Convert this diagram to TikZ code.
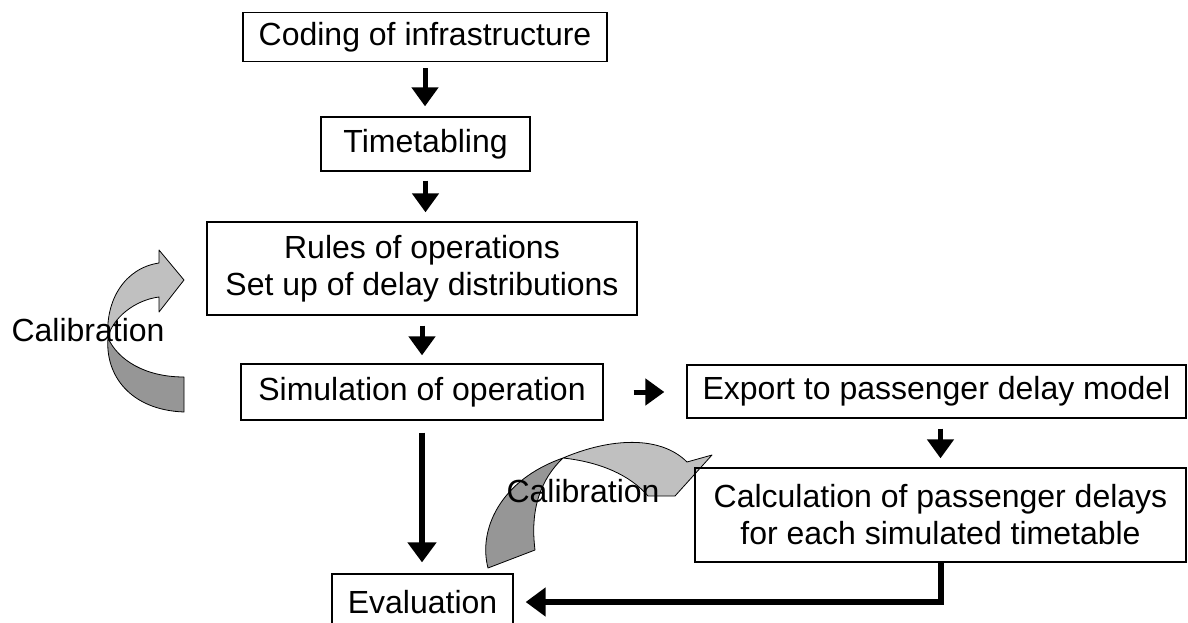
\documentclass[tikz,border=0pt]{standalone}
\usepackage{fontspec}
\setmainfont{Liberation Sans}
\usetikzlibrary{arrows.meta}
\definecolor{bandlight}{RGB}{192,192,192}
\definecolor{banddark}{RGB}{150,150,150}

\begin{document}
\begin{tikzpicture}[x=1pt,y=-1pt]
\tikzstyle{box}=[draw,line width=1.3pt,inner sep=0pt,align=center,font=\fontsize{32}{37}\selectfont]
\tikzstyle{flow}=[-{Triangle[width=26pt,length=19pt]},line width=5pt]
\tikzstyle{lflow}=[-{Triangle[width=28pt,length=20pt]},line width=6pt]
\tikzstyle{lite}=[fill=bandlight,draw=black,line width=0.8pt,line join=round]
\tikzstyle{shade}=[fill=banddark,draw=black,line width=0.8pt,line join=round]
\tikzstyle{lbl}=[font=\fontsize{32}{37}\selectfont,inner sep=0pt]
\useasboundingbox (0,0) rectangle (1188,623);
\clip (0,0) rectangle (1188,623);

\path[shade] (184,412) .. controls (130,410) and (105,375) .. (108,338)
  .. controls (118,360) and (145,377) .. (184,377) -- cycle;
\path[lite] (108,338) .. controls (105,300) and (125,268) .. (159,263) -- (159,250) -- (184,280)
  -- (159,312) -- (159,297) .. controls (135,300) and (112,318) .. (108,338) -- cycle;

\path[shade] (488,568) .. controls (478,530) and (500,480) .. (563,458)
  .. controls (540,480) and (530,510) .. (535,550) -- cycle;
\path[lite] (563,458) .. controls (610,438) and (660,435) .. (687,462) -- (712,455) -- (675,496)
  -- (648,496) .. controls (630,475) and (600,462) .. (563,458) -- cycle;

\path (425,37) node[box,minimum width=364pt,minimum height=49pt](code){Coding of infrastructure}
      (425.5,144) node[box,minimum width=209pt,minimum height=54pt](tt){Timetabling}
      (422,268.5) node[box,minimum width=430pt,minimum height=93pt](rules){Rules of operations\\Set up of delay distributions}
      (422,392) node[box,minimum width=362pt,minimum height=56pt](sim){Simulation of operation}
      (936.5,391.5) node[box,minimum width=499pt,minimum height=53pt](exp){Export to passenger delay model}
      (940.5,515) node[box,minimum width=491pt,minimum height=94pt](calc){Calculation of passenger delays\\for each simulated timetable}
      (422.5,602) node[box,minimum width=181pt,minimum height=56pt](eval){Evaluation};

\draw[flow,shorten <=6pt,shorten >=10pt] (code.south) -- (code.south |- tt.north);
\draw[flow,shorten <=9pt,shorten >=9pt] (tt.south) -- (tt.south |- rules.north);
\draw[flow,shorten <=10pt,shorten >=8pt] (rules.south) -- (rules.south |- sim.north);
\draw[flow,shorten <=30pt,shorten >=22pt] (sim.east) -- (sim.east -| exp.west);
\draw[flow,shorten <=10pt,shorten >=9pt] (calc.north |- exp.south) -- (calc.north);
\draw[lflow,shorten <=12pt,shorten >=11pt] (sim.south) -- (sim.south |- eval.north);
\draw[lflow,shorten >=12pt] (calc.south) |- (eval.east);

\node[lbl] (cal1) at (88,330) {Calibration};
\node[lbl] (cal2) at (583,491) {Calibration};
\end{tikzpicture}
\end{document}
